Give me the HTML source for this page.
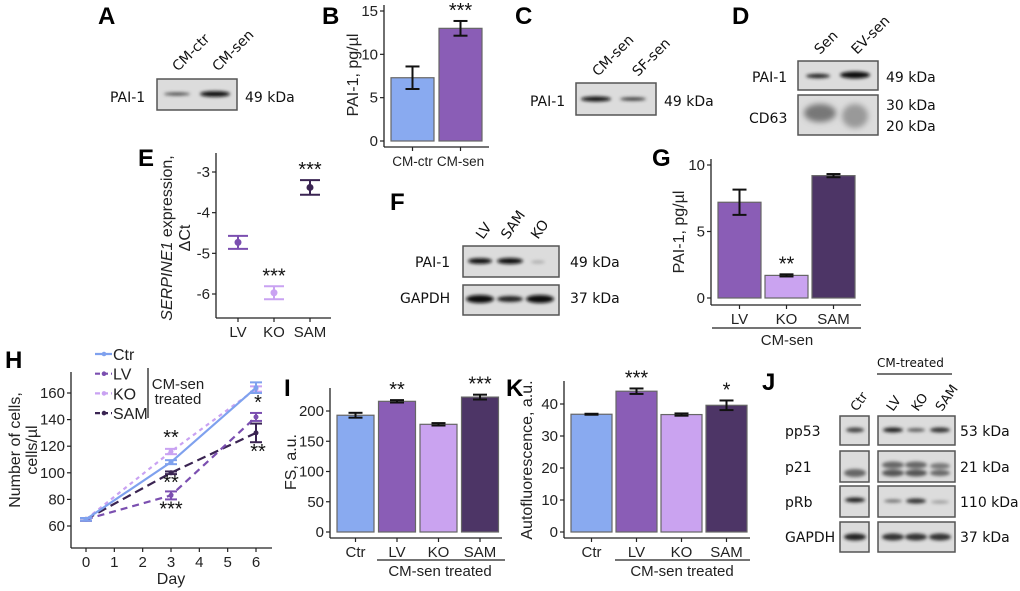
<!DOCTYPE html>
<html><head><meta charset="utf-8">
<style>
html,body{margin:0;padding:0;background:#fff;}
svg{display:block;font-family:"Liberation Sans",Arial,sans-serif;}
.pl{font-weight:bold;font-size:24px;}
.wb{font-size:14px;fill:#111;font-family:"DejaVu Sans","Liberation Sans",sans-serif;}
.blot{fill:#dcdcdc;stroke:#555;stroke-width:1.5;}
</style></head>
<body>
<svg id="fig" width="1020" height="591" viewBox="0 0 1020 591">
<defs>
<filter id="bl" x="-30%" y="-200%" width="160%" height="500%"><feGaussianBlur stdDeviation="1.6"/></filter>
<filter id="bl2" x="-30%" y="-100%" width="160%" height="300%"><feGaussianBlur stdDeviation="3"/></filter>
</defs>

<g>
<text class="pl" x="98" y="24">A</text>
<text class="wb" transform="translate(178,72) rotate(-45)">CM-ctr</text>
<text class="wb" transform="translate(218,72) rotate(-45)">CM-sen</text>
<text class="wb" x="110" y="102">PAI-1</text>
<rect class="blot" x="157" y="79" width="80" height="31"/>
<ellipse cx="177" cy="94" rx="13" ry="1.5" fill="#444" filter="url(#bl)"/>
<ellipse cx="215" cy="94" rx="15" ry="2.8" fill="#111" filter="url(#bl)"/>
<text class="wb" x="245" y="102">49 kDa</text>
</g>

<g>
<text class="pl" x="515" y="24">C</text>
<text class="wb" transform="translate(598,77) rotate(-45)">CM-sen</text>
<text class="wb" transform="translate(638,77) rotate(-45)">SF-sen</text>
<text class="wb" x="530" y="106">PAI-1</text>
<rect class="blot" x="576" y="83" width="80" height="32"/>
<ellipse cx="596" cy="99" rx="15" ry="2.5" fill="#111" filter="url(#bl)"/>
<ellipse cx="633" cy="99" rx="13" ry="1.6" fill="#333" filter="url(#bl)"/>
<text class="wb" x="664" y="106">49 kDa</text>
</g>

<g>
<text class="pl" x="732" y="24">D</text>
<text class="wb" transform="translate(820,55) rotate(-45)">Sen</text>
<text class="wb" transform="translate(857,55) rotate(-45)">EV-sen</text>
<text class="wb" x="752" y="82">PAI-1</text>
<text class="wb" x="749" y="123">CD63</text>
<rect class="blot" x="798" y="61" width="80" height="29"/>
<ellipse cx="818" cy="76" rx="12" ry="2.2" fill="#222" filter="url(#bl)"/>
<ellipse cx="855" cy="75" rx="15" ry="3.5" fill="#111" filter="url(#bl)"/>
<rect class="blot" x="798" y="95" width="80" height="40"/>
<ellipse cx="820" cy="113" rx="16" ry="9" fill="#777" filter="url(#bl2)"/>
<ellipse cx="855" cy="116" rx="13" ry="12" fill="#999" filter="url(#bl2)"/>
<text class="wb" x="886" y="82">49 kDa</text>
<text class="wb" x="886" y="110">30 kDa</text>
<text class="wb" x="886" y="131">20 kDa</text>
</g>

<g>
<text class="pl" x="390" y="210">F</text>
<text class="wb" transform="translate(483,240) rotate(-55)">LV</text>
<text class="wb" transform="translate(508,240) rotate(-55)">SAM</text>
<text class="wb" transform="translate(538,240) rotate(-55)">KO</text>
<text class="wb" x="415" y="267">PAI-1</text>
<text class="wb" x="400" y="303">GAPDH</text>
<rect class="blot" x="463" y="246" width="96" height="31"/>
<ellipse cx="480" cy="261" rx="12" ry="2.8" fill="#111" filter="url(#bl)"/>
<ellipse cx="510" cy="261" rx="13" ry="3" fill="#111" filter="url(#bl)"/>
<ellipse cx="538" cy="262" rx="7" ry="1.5" fill="#aaa" filter="url(#bl)"/>
<rect class="blot" x="463" y="285" width="96" height="30"/>
<ellipse cx="480" cy="299" rx="14" ry="4" fill="#111" filter="url(#bl)"/>
<ellipse cx="510" cy="299" rx="13" ry="3" fill="#222" filter="url(#bl)"/>
<ellipse cx="540" cy="299" rx="14" ry="4" fill="#111" filter="url(#bl)"/>
<text class="wb" x="570" y="267">49 kDa</text>
<text class="wb" x="570" y="303">37 kDa</text>
</g>

<g>
<text class="pl" x="762" y="390">J</text>
<text class="wb" x="877" y="367" style="font-size:12px">CM-treated</text>
<line x1="877" y1="374" x2="952" y2="374" stroke="#222" stroke-width="1.2"/>
<text class="wb" style="font-size:13px" transform="translate(857,412) rotate(-55)">Ctr</text>
<text class="wb" style="font-size:13px" transform="translate(893,412) rotate(-55)">LV</text>
<text class="wb" style="font-size:13px" transform="translate(918,412) rotate(-55)">KO</text>
<text class="wb" style="font-size:13px" transform="translate(942,412) rotate(-55)">SAM</text>
<text class="wb" x="785" y="436">pp53</text>
<text class="wb" x="785" y="472">p21</text>
<text class="wb" x="785" y="507">pRb</text>
<text class="wb" x="785" y="542">GAPDH</text>
<rect class="blot" x="840" y="416" width="29" height="29"/><rect class="blot" x="878" y="416" width="77" height="29"/>
<rect class="blot" x="840" y="451" width="29" height="31"/><rect class="blot" x="878" y="451" width="77" height="31"/>
<rect class="blot" x="840" y="486" width="29" height="31"/><rect class="blot" x="878" y="486" width="77" height="31"/>
<rect class="blot" x="840" y="522" width="29" height="30"/><rect class="blot" x="878" y="522" width="77" height="30"/>
<g filter="url(#bl)">
<ellipse cx="855" cy="430" rx="9" ry="2.5" fill="#444"/><ellipse cx="893" cy="430" rx="10" ry="2.5" fill="#222"/><ellipse cx="916" cy="430" rx="9" ry="1.8" fill="#555"/><ellipse cx="940" cy="430" rx="10" ry="2.5" fill="#333"/>
<ellipse cx="855" cy="473" rx="11" ry="4" fill="#666"/><ellipse cx="893" cy="465" rx="11" ry="3.5" fill="#666"/><ellipse cx="893" cy="473" rx="11" ry="3.5" fill="#555"/><ellipse cx="916" cy="465" rx="11" ry="3.5" fill="#666"/><ellipse cx="916" cy="473" rx="11" ry="3.5" fill="#555"/><ellipse cx="940" cy="466" rx="10" ry="3" fill="#777"/><ellipse cx="940" cy="473" rx="10" ry="3" fill="#666"/>
<ellipse cx="855" cy="500" rx="10" ry="2.5" fill="#222"/><ellipse cx="893" cy="501" rx="9" ry="1.5" fill="#666"/><ellipse cx="916" cy="501" rx="10" ry="2.5" fill="#333"/><ellipse cx="940" cy="502" rx="9" ry="1.5" fill="#999"/>
<ellipse cx="855" cy="537" rx="11" ry="3.5" fill="#222"/><ellipse cx="893" cy="537" rx="11" ry="3.5" fill="#333"/><ellipse cx="916" cy="537" rx="11" ry="3.5" fill="#333"/><ellipse cx="940" cy="537" rx="11" ry="3.5" fill="#333"/>
</g>
<text class="wb" x="960" y="436">53 kDa</text>
<text class="wb" x="960" y="472">21 kDa</text>
<text class="wb" x="960" y="507">110 kDa</text>
<text class="wb" x="960" y="542">37 kDa</text>
</g>

<text class="pl" x="322" y="24">B</text>
<text class="pl" x="138" y="166">E</text>
<text class="pl" x="652" y="166">G</text>
<text class="pl" x="5" y="368">H</text>
<text class="pl" x="284" y="396">I</text>
<text class="pl" x="506" y="396">K</text>
<g id="charts"></g>
</svg>
<script>
// ---- data ----
const bCats = ["CM-ctr","CM-sen"];
const bVals = [7.3, 13.0];
const bErr = [1.3, 0.85];
const bTicks = [0,5,10,15];
const eCats = ["LV","KO","SAM"];
const eVals = [-4.73,-5.97,-3.38];
const eErr = [0.16,0.16,0.18];
const eTicks = [-3,-4,-5,-6];
const gCats = ["LV","KO","SAM"];
const gVals = [7.2,1.7,9.2];
const gErr = [0.95,0.08,0.12];
const gTicks = [0,5,10];
const hDays = [0,3,6];
const hCtr = [65,108,164];
const hLV = [65,83,142];
const hKO = [65,116,163];
const hSAM = [65,100,130];
const hCtrErr = [1,1.5,4];
const hLVErr = [1,3,3];
const hKOErr = [1,2,2];
const hSAMErr = [1,1,7];
const hTicksY = [60,80,100,120,140,160];
const hTicksX = [0,1,2,3,4,5,6];
const iCats = ["Ctr","LV","KO","SAM"];
const iVals = [193,216,178,223];
const iErr = [4,2,2,4];
const iTicks = [0,50,100,150,200];
const kCats = ["Ctr","LV","KO","SAM"];
const kVals = [36.8,44.0,36.7,39.6];
const kErr = [0.15,0.85,0.35,1.5];
const kTicks = [0,10,20,30,40];

const C = {Ctr:"#89aaf0",LV:"#8a5db6",KO:"#caa3f0",SAM:"#4d3566","CM-ctr":"#89aaf0","CM-sen":"#8a5db6"};
const EC = {LV:"#7b4fb0",KO:"#c9a2f2",SAM:"#3a2452"};
const NS="http://www.w3.org/2000/svg";
const root=document.getElementById("charts");
function mk(tag,attrs,parent,txt){const e=document.createElementNS(NS,tag);for(const k in attrs)e.setAttribute(k,attrs[k]);if(txt!==undefined)e.textContent=txt;(parent||root).appendChild(e);return e;}
function lin(d0,d1,r0,r1){return v=>r0+(v-d0)*(r1-r0)/(d1-d0);}

function axisY(g,x,y0,y1,ticks,sy,fs){
  const ax=mk("line",{x1:x,y1:y0,x2:x,y2:y1,stroke:"#222","stroke-width":1.3},g);
  
  
  ticks.forEach(t=>{mk("line",{x1:x-4,y1:sy(t),x2:x,y2:sy(t),stroke:"#222","stroke-width":1.2},g);
    const tl=mk("text",{x:x-6,y:sy(t)+5,"text-anchor":"end","font-size":fs||15,fill:"#222"},g,String(t));
    
    });
}
function axisX(g,x0,x1,y){
  const ax=mk("line",{x1:x0,y1:y,x2:x1,y2:y,stroke:"#222","stroke-width":1.3},g);
  
  
}
function errbar(g,x,lo,hi,w,col){
  mk("line",{x1:x,y1:lo,x2:x,y2:hi,stroke:col,"stroke-width":2},g);
  mk("line",{x1:x-w,y1:lo,x2:x+w,y2:lo,stroke:col,"stroke-width":2},g);
  mk("line",{x1:x-w,y1:hi,x2:x+w,y2:hi,stroke:col,"stroke-width":2},g);
}
function barChart(o){
  const g=mk("g",{});
  
  
  const sy=lin(0,o.tmax,o.y0,o.yTop);
  axisY(g,o.ax,o.axTop,o.axBot,o.ticks,sy,o.fs);
  axisX(g,o.ax,o.axEnd,o.axBot);
  o.cats.forEach((c,i)=>{
    const x=o.x0+i*o.step, cx=x+o.bw/2;
    const r=mk("rect",{x:x,y:sy(o.vals[i]),width:o.bw,height:sy(0)-sy(o.vals[i]),fill:C[c],stroke:"#666","stroke-width":1.2},g);
    
    
    errbar(g,cx,sy(o.vals[i]-o.err[i]),sy(o.vals[i]+o.err[i]),7,"#111");
    mk("line",{x1:cx,y1:o.axBot,x2:cx,y2:o.axBot+4,stroke:"#222","stroke-width":1.2},g);
    const tl=mk("text",{x:cx,y:o.axBot+19,"text-anchor":"middle","font-size":o.xfs||15,fill:"#222"},g,c);
    
    
    if(o.sig&&o.sig[i]){const s=mk("text",{x:cx,y:sy(o.vals[i]+o.err[i])-4,"text-anchor":"middle","font-size":20,fill:"#111"},g,o.sig[i]);
      
      }
  });
  const yt=mk("text",{transform:`translate(${o.ytx},${o.yty}) rotate(-90)`,"text-anchor":"middle","font-size":16,fill:"#222"},g,o.ytitle);
  
  
  return {g,sy};
}

barChart({name:"chart-b",cats:bCats,vals:bVals,err:bErr,ticks:bTicks,tmax:15,y0:141,yTop:11,ax:384,axTop:5,axBot:147,axEnd:489,x0:391,step:48,bw:43,xfs:13.5,sig:["","***"],ytitle:"PAI-1, pg/µl",ytx:358,yty:75});
const gg=barChart({name:"chart-g",cats:gCats,vals:gVals,err:gErr,ticks:gTicks,tmax:10,y0:298,yTop:165,ax:711,axTop:159,axBot:305,axEnd:861,x0:718,step:47,bw:43,sig:["","**",""],ytitle:"PAI-1, pg/µl",ytx:684,yty:232});
mk("line",{x1:712,y1:328,x2:861,y2:328,stroke:"#222","stroke-width":1.3},gg.g);
mk("text",{x:787,y:345,"text-anchor":"middle","font-size":15,fill:"#222"},gg.g,"CM-sen");
const gi=barChart({name:"chart-i",cats:iCats,vals:iVals,err:iErr,ticks:iTicks,tmax:200,y0:532,yTop:411,ax:330,axTop:388,axBot:538,axEnd:502,x0:337,step:41.5,bw:37,sig:["","**","","***"],ytitle:"FS, a.u.",ytx:296,yty:462});
mk("line",{x1:377,y1:560,x2:505,y2:560,stroke:"#222","stroke-width":1.3},gi.g);
mk("text",{x:440,y:576,"text-anchor":"middle","font-size":15,fill:"#222"},gi.g,"CM-sen treated");
const gk=barChart({name:"chart-k",cats:kCats,vals:kVals,err:kErr,ticks:kTicks,tmax:40,y0:532,yTop:404,ax:564,axTop:381,axBot:538,axEnd:750,x0:571,step:45,bw:41,sig:["","***","","*"],ytitle:"Autofluorescence, a.u.",ytx:532,yty:460});
mk("line",{x1:615,y1:560,x2:750,y2:560,stroke:"#222","stroke-width":1.3},gk.g);
mk("text",{x:682,y:576,"text-anchor":"middle","font-size":15,fill:"#222"},gk.g,"CM-sen treated");

(function(){
  const g=mk("g",{});
  
  
  const sy=lin(-3,-6,172,294);
  axisY(g,216,153,318,eTicks,sy);
  axisX(g,216,331,318);
  eCats.forEach((c,i)=>{
    const x=238+i*36;
    errbar(g,x,sy(eVals[i]-eErr[i]),sy(eVals[i]+eErr[i]),10,EC[c]);
    const p=mk("circle",{cx:x,cy:sy(eVals[i]),r:3.5,fill:EC[c]},g);
    
    
    mk("line",{x1:x,y1:318,x2:x,y2:322,stroke:"#222","stroke-width":1.2},g);
    mk("text",{x:x,y:337,"text-anchor":"middle","font-size":15,fill:"#222"},g,c);
    if(c!=="LV") mk("text",{x:x,y:sy(eVals[i]+eErr[i])-4,"text-anchor":"middle","font-size":20,fill:"#111"},g,"***");
  });
  const t=mk("text",{transform:"translate(172,238) rotate(-90)","text-anchor":"middle","font-size":16,fill:"#222"},g);
  
  
  mk("tspan",{"font-style":"italic"},t,"SERPINE1");
  mk("tspan",{},t," expression,");
  mk("text",{transform:"translate(190,238) rotate(-90)","text-anchor":"middle","font-size":16,fill:"#222"},g,"ΔCt");
})();

(function(){
  const g=mk("g",{});
  
  
  const sy=lin(60,160,526,393), sx=lin(0,6,86,256);
  axisY(g,71,372,548,hTicksY,sy);
  axisX(g,71,272,548);
  hTicksX.forEach(t=>{mk("line",{x1:sx(t),y1:548,x2:sx(t),y2:552,stroke:"#222","stroke-width":1.2},g);
    mk("text",{x:sx(t),y:567,"text-anchor":"middle","font-size":15,fill:"#222"},g,String(t));});
  mk("text",{x:171,y:584,"text-anchor":"middle","font-size":16,fill:"#222"},g,"Day");
  mk("text",{transform:"translate(20,450) rotate(-90)","text-anchor":"middle","font-size":16,fill:"#222"},g,"Number of cells,");
  mk("text",{transform:"translate(37,450) rotate(-90)","text-anchor":"middle","font-size":16,fill:"#222"},g,"cells/µl");
  const series=[["KO",hKO,hKOErr,"4,4"],["SAM",hSAM,hSAMErr,"9,5"],["LV",hLV,hLVErr,"7,5"],["Ctr",hCtr,hCtrErr,""]];
  series.forEach(([n,vals,er,dash])=>{
    const col=n==="Ctr"?"#7fa1ee":(n==="KO"?"#c9a2f2":EC[n]);
    const pts=hDays.map((d,i)=>sx(d)+","+sy(vals[i])).join(" ");
    const pl=mk("polyline",{points:pts,fill:"none",stroke:col,"stroke-width":2.2,"stroke-dasharray":dash},g);
    
    
    hDays.forEach((d,i)=>{errbar(g,sx(d),sy(vals[i]-er[i]),sy(vals[i]+er[i]),6,col);
      mk("circle",{cx:sx(d),cy:sy(vals[i]),r:2.5,fill:col},g);});
  });
  const st=[[3,hKO[1]+hKOErr[1],"**",-5],[3,hSAM[1],"**",16],[3,hLV[1]-hLVErr[1],"***",16],[6,hLV[2]+hLVErr[2],"*",-4],[6,hSAM[2]-hSAMErr[2],"**",16]];
  st.forEach(s=>{const t=mk("text",{x:sx(s[0])+(s[0]===6?2:0),y:sy(s[1])+s[3],"text-anchor":"middle","font-size":20,fill:"#111"},g,s[2]);
    
    });
  const leg=[["Ctr","#7fa1ee",""],["LV",EC.LV,"5,3"],["KO","#c9a2f2","5,3"],["SAM",EC.SAM,"5,3"]];
  leg.forEach((l,i)=>{const y=354+i*19.7;
    const e=mk("g",{},g);
    
    
    mk("line",{x1:95,y1:y,x2:112,y2:y,stroke:l[1],"stroke-width":2.2,"stroke-dasharray":l[2]},e);
    mk("circle",{cx:104,cy:y,r:2.3,fill:l[1]},e);
    mk("text",{x:113,y:y+6,"font-size":16,fill:"#222"},e,l[0]);});
  mk("line",{x1:148,y1:368,x2:148,y2:418,stroke:"#222","stroke-width":1.3},g);
  mk("text",{x:178,y:389,"text-anchor":"middle","font-size":15,fill:"#222"},g,"CM-sen");
  mk("text",{x:178,y:404,"text-anchor":"middle","font-size":15,fill:"#222"},g,"treated");
})();
</script>
</body></html>
